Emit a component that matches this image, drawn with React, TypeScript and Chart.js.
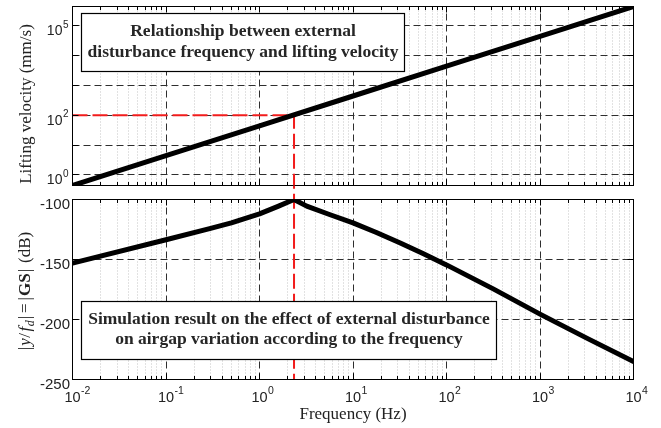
import { useEffect, useRef } from "react";
import { Chart, registerables } from "chart.js";

Chart.register(...registerables);

// Frequency axis decades: 10^-2 … 10^4 Hz
const freqDecades = [-2, -1, 0, 1, 2, 3, 4];

// Lifting velocity (mm/s) versus disturbance frequency (Hz)
const velocityFreqHz = [0.01, 0.1, 1, 10, 100, 1000, 10000];
const liftingVelocity = [0.44, 4.4, 44, 440, 4400, 44000, 440000];
const velocityGridDecades = [0, 1, 2, 3, 4, 5];
const velocityLabelDecades = [0, 2, 5];

// Airgap response |y/f_d| = |GS| in dB
const gainFreqHz = [0.01, 0.1, 0.3, 0.5, 1, 1.6, 2.34, 3.2, 5.6, 10, 17.8, 31.6, 56, 100, 316, 1000, 3162, 10000];
const gainDb = [-153, -133.5, -124, -119.5, -112, -105.5, -100, -105.5, -112.5, -119.5, -127.5, -136, -145, -154.5, -174.5, -195.5, -215.5, -235];
const gainTicks = [-100, -150, -200, -250];

// Resonance marker (frequency, lifting velocity)
const resonanceHz = 2.34;
const resonanceVelocity = 100;

const topNote = ["Relationship between external", "disturbance frequency and lifting velocity"];
const bottomNote = [
  "Simulation result on the effect of external disturbance",
  "on airgap variation according to the frequency",
];

const SANS = "'Liberation Sans', Arial, sans-serif";
const SERIF = "'Liberation Serif', 'Times New Roman', serif";
const INK = "#222";
const RED = "#f21c1c";
const RED_DASH = [15, 5];

const BOTTOM_CANVAS_TOP = 185;

const snap = (v: number) => Math.round(v - 0.5) + 0.5;

function seg(ctx: CanvasRenderingContext2D, x1: number, y1: number, x2: number, y2: number) {
  ctx.beginPath();
  ctx.moveTo(x1, y1);
  ctx.lineTo(x2, y2);
  ctx.stroke();
}

function drawGrid(chart: any, yGrid: number[]) {
  const ctx: CanvasRenderingContext2D = chart.ctx;
  const { left, right, top, bottom } = chart.chartArea;
  const xs = chart.scales.x;
  const ys = chart.scales.y;
  ctx.save();
  ctx.lineWidth = 1;
  ctx.strokeStyle = "#c4c4c4";
  ctx.setLineDash([1, 2]);
  for (const d of freqDecades.slice(0, -1)) {
    for (let m = 2; m <= 9; m++) {
      const px = snap(xs.getPixelForValue(m * Math.pow(10, d)));
      seg(ctx, px, bottom, px, top);
    }
  }
  ctx.strokeStyle = "#2e2e2e";
  ctx.setLineDash([7, 4]);
  for (const d of freqDecades) {
    const px = snap(xs.getPixelForValue(Math.pow(10, d)));
    if (px > left + 1 && px < right - 1) seg(ctx, px, bottom, px, top);
  }
  for (const v of yGrid) {
    const py = snap(ys.getPixelForValue(v));
    if (py > top + 1 && py < bottom - 1) seg(ctx, left, py, right, py);
  }
  ctx.restore();
}

function drawFrame(chart: any, yTicks: number[]) {
  const ctx: CanvasRenderingContext2D = chart.ctx;
  const { left, right, top, bottom } = chart.chartArea;
  const xs = chart.scales.x;
  const ys = chart.scales.y;
  ctx.save();
  ctx.setLineDash([]);
  ctx.strokeStyle = "#000";
  ctx.lineWidth = 1;
  ctx.strokeRect(snap(left), snap(top), snap(right) - snap(left), snap(bottom) - snap(top));
  for (const d of freqDecades) {
    const px = snap(xs.getPixelForValue(Math.pow(10, d)));
    seg(ctx, px, bottom, px, bottom - 6);
    seg(ctx, px, top, px, top + 6);
    if (d === freqDecades[freqDecades.length - 1]) continue;
    for (let m = 2; m <= 9; m++) {
      const mx = snap(xs.getPixelForValue(m * Math.pow(10, d)));
      seg(ctx, mx, bottom, mx, bottom - 3.5);
      seg(ctx, mx, top, mx, top + 3.5);
    }
  }
  for (const v of yTicks) {
    const py = snap(ys.getPixelForValue(v));
    seg(ctx, left, py, left + 6, py);
    seg(ctx, right, py, right - 6, py);
  }
  ctx.restore();
}

function drawNote(ctx: CanvasRenderingContext2D, x0: number, y0: number, x1: number, y1: number, lines: string[], baselines: number[]) {
  ctx.save();
  ctx.setLineDash([]);
  ctx.fillStyle = "#fff";
  ctx.fillRect(x0, y0, x1 - x0, y1 - y0);
  ctx.strokeStyle = "#000";
  ctx.lineWidth = 1.2;
  ctx.strokeRect(x0, y0, x1 - x0, y1 - y0);
  ctx.fillStyle = "#262626";
  ctx.font = `bold 17.5px ${SERIF}`;
  ctx.textAlign = "center";
  ctx.textBaseline = "alphabetic";
  lines.forEach((t, i) => ctx.fillText(t, (x0 + x1) / 2, baselines[i]));
  ctx.restore();
}

function drawPow10Y(ctx: CanvasRenderingContext2D, rightX: number, tickY: number, exp: number) {
  ctx.save();
  ctx.fillStyle = INK;
  ctx.textAlign = "left";
  ctx.textBaseline = "alphabetic";
  ctx.font = `10px ${SANS}`;
  const e = String(exp);
  const ew = ctx.measureText(e).width;
  ctx.fillText(e, rightX - ew, tickY + 2);
  ctx.font = `14px ${SANS}`;
  const w = ctx.measureText("10").width;
  ctx.fillText("10", rightX - ew - 0.5 - w, tickY + 9.5);
  ctx.restore();
}

function drawPow10X(ctx: CanvasRenderingContext2D, x: number, baseY: number, exp: number) {
  ctx.save();
  ctx.fillStyle = INK;
  ctx.textAlign = "left";
  ctx.textBaseline = "alphabetic";
  ctx.font = `14.5px ${SANS}`;
  const w = ctx.measureText("10").width;
  ctx.fillText("10", x - w / 2, baseY);
  ctx.font = `10.5px ${SANS}`;
  ctx.fillText(String(exp), x + w / 2 + 0.5, baseY - 8);
  ctx.restore();
}

type Piece = { t: string; font: string; dy?: number; gap?: number };

function drawRotatedPieces(ctx: CanvasRenderingContext2D, baseX: number, centerY: number, pieces: Piece[]) {
  ctx.save();
  ctx.translate(baseX, centerY);
  ctx.rotate(-Math.PI / 2);
  ctx.fillStyle = INK;
  ctx.textAlign = "left";
  ctx.textBaseline = "alphabetic";
  let total = 0;
  for (const p of pieces) {
    ctx.font = p.font;
    total += ctx.measureText(p.t).width + (p.gap || 0);
  }
  let x = -total / 2;
  for (const p of pieces) {
    ctx.font = p.font;
    ctx.fillText(p.t, x, p.dy || 0);
    x += ctx.measureText(p.t).width + (p.gap || 0);
  }
  ctx.restore();
}

export default function App() {
  const topRef = useRef<HTMLCanvasElement>(null);
  const bottomRef = useRef<HTMLCanvasElement>(null);

  useEffect(() => {
    const marker = { dashPhase: 0 };
    const xMin = Math.pow(10, freqDecades[0]);
    const xMax = Math.pow(10, freqDecades[freqDecades.length - 1]);

    const velocityPlugin = {
      id: "velocityPanel",
      beforeDatasetsDraw(chart: any) {
        drawGrid(chart, velocityGridDecades.map((d) => Math.pow(10, d)));
        const ctx: CanvasRenderingContext2D = chart.ctx;
        const { left, bottom } = chart.chartArea;
        const xr = chart.scales.x.getPixelForValue(resonanceHz);
        const yv = chart.scales.y.getPixelForValue(resonanceVelocity);
        ctx.save();
        ctx.strokeStyle = RED;
        ctx.lineWidth = 2;
        ctx.setLineDash(RED_DASH);
        ctx.beginPath();
        ctx.moveTo(left, yv);
        ctx.lineTo(xr, yv);
        ctx.lineTo(xr, bottom);
        ctx.stroke();
        ctx.restore();
        marker.dashPhase = (xr - left + (bottom - yv)) % (RED_DASH[0] + RED_DASH[1]);
      },
      afterDatasetsDraw(chart: any) {
        const ctx: CanvasRenderingContext2D = chart.ctx;
        drawFrame(chart, velocityGridDecades.map((d) => Math.pow(10, d)));
        for (const d of velocityLabelDecades) {
          drawPow10Y(ctx, 68.5, chart.scales.y.getPixelForValue(Math.pow(10, d)), d);
        }
        drawRotatedPieces(ctx, 31, 104, [{ t: "Lifting velocity (mm/s)", font: `17px ${SERIF}` }]);
        drawNote(ctx, 81.5, 13.5, 404.5, 71.5, topNote, [36, 57]);
      },
    };

    const gainPlugin = {
      id: "gainPanel",
      beforeDatasetsDraw(chart: any) {
        drawGrid(chart, gainTicks);
        const ctx: CanvasRenderingContext2D = chart.ctx;
        const { bottom } = chart.chartArea;
        const xr = chart.scales.x.getPixelForValue(resonanceHz);
        ctx.save();
        ctx.strokeStyle = RED;
        ctx.lineWidth = 2;
        ctx.setLineDash(RED_DASH);
        ctx.lineDashOffset = marker.dashPhase;
        seg(ctx, xr, 0.5, xr, bottom);
        ctx.restore();
      },
      afterDatasetsDraw(chart: any) {
        const ctx: CanvasRenderingContext2D = chart.ctx;
        const { left, right } = chart.chartArea;
        drawFrame(chart, gainTicks);
        ctx.save();
        ctx.fillStyle = INK;
        ctx.font = `15px ${SANS}`;
        ctx.textAlign = "right";
        ctx.textBaseline = "alphabetic";
        for (const v of gainTicks) {
          ctx.fillText(String(v), 70, chart.scales.y.getPixelForValue(v) + 9);
        }
        ctx.restore();
        for (const d of freqDecades) {
          drawPow10X(ctx, chart.scales.x.getPixelForValue(Math.pow(10, d)), 402 - BOTTOM_CANVAS_TOP, d);
        }
        ctx.save();
        ctx.fillStyle = INK;
        ctx.font = `17px ${SERIF}`;
        ctx.textAlign = "center";
        ctx.fillText("Frequency (Hz)", (left + right) / 2, 419 - BOTTOM_CANVAS_TOP);
        ctx.restore();
        const reg = `17px ${SERIF}`;
        const ita = `italic 17px ${SERIF}`;
        drawRotatedPieces(ctx, 29.5, 291 - BOTTOM_CANVAS_TOP, [
          { t: "|", font: reg, gap: 1 },
          { t: "y", font: ita, gap: 0.5 },
          { t: "/", font: reg, gap: 1.5 },
          { t: "f", font: ita, gap: 0.5 },
          { t: "d", font: `italic 12px ${SERIF}`, dy: 4, gap: 1 },
          { t: "|", font: reg, gap: 3 },
          { t: "=", font: reg, gap: 3 },
          { t: "|", font: reg, gap: 1 },
          { t: "GS", font: `bold 17px ${SERIF}`, gap: 1 },
          { t: "|", font: reg, gap: 6 },
          { t: "(dB)", font: reg },
        ]);
        drawNote(ctx, 81.5, 301.5 - BOTTOM_CANVAS_TOP, 496.5, 359.5 - BOTTOM_CANVAS_TOP, bottomNote, [
          324 - BOTTOM_CANVAS_TOP,
          344 - BOTTOM_CANVAS_TOP,
        ]);
      },
    };

    const lineStyle = {
      borderColor: "#000",
      borderWidth: 5,
      pointRadius: 0,
      tension: 0,
      borderCapStyle: "round" as const,
      borderJoinStyle: "round" as const,
    };

    const top = new Chart(topRef.current!, {
      type: "line",
      data: {
        datasets: [{ ...lineStyle, data: velocityFreqHz.map((f, i) => ({ x: f, y: liftingVelocity[i] })) }],
      },
      options: {
        animation: false,
        responsive: false,
        devicePixelRatio: 1,
        layout: { padding: { left: 72.5, right: 27.5, top: 6.5, bottom: 4.5 } },
        plugins: { legend: { display: false }, tooltip: { enabled: false } },
        scales: {
          x: { type: "logarithmic", display: false, min: xMin, max: xMax },
          y: {
            type: "logarithmic",
            display: false,
            min: liftingVelocity[0],
            max: liftingVelocity[liftingVelocity.length - 1],
          },
        },
      },
      plugins: [velocityPlugin],
    });

    const bottom = new Chart(bottomRef.current!, {
      type: "line",
      data: {
        datasets: [{ ...lineStyle, data: gainFreqHz.map((f, i) => ({ x: f, y: gainDb[i] })) }],
      },
      options: {
        animation: false,
        responsive: false,
        devicePixelRatio: 1,
        layout: { padding: { left: 72.5, right: 27.5, top: 14.5, bottom: 48.5 } },
        plugins: { legend: { display: false }, tooltip: { enabled: false } },
        scales: {
          x: { type: "logarithmic", display: false, min: xMin, max: xMax },
          y: { type: "linear", display: false, min: Math.min(...gainTicks), max: Math.max(...gainTicks) },
        },
      },
      plugins: [gainPlugin],
    });

    return () => {
      top.destroy();
      bottom.destroy();
    };
  }, []);

  return (
    <div style={{ position: "fixed", left: 0, top: 0, width: 661, height: 428, background: "#fff" }}>
      <canvas ref={topRef} width={661} height={190} style={{ position: "absolute", left: 0, top: 0 }} />
      <canvas
        ref={bottomRef}
        width={661}
        height={428 - BOTTOM_CANVAS_TOP}
        style={{ position: "absolute", left: 0, top: BOTTOM_CANVAS_TOP }}
      />
    </div>
  );
}
